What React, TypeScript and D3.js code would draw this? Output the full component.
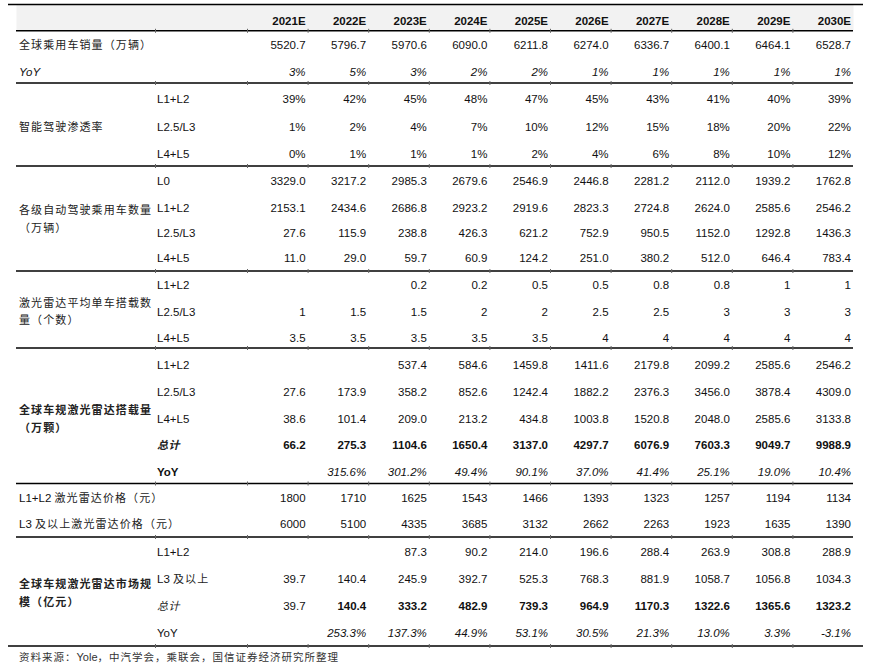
import React from 'react';
import * as d3 from 'd3';

const years = ['2021E', '2022E', '2023E', '2024E', '2025E', '2026E', '2027E', '2028E', '2029E', '2030E'];

const sales = [5520.7, 5796.7, 5970.6, 6090.0, 6211.8, 6274.0, 6336.7, 6400.1, 6464.1, 6528.7];
const salesYoY = [3, 5, 3, 2, 2, 1, 1, 1, 1, 1];

const penL12 = [39, 42, 45, 48, 47, 45, 43, 41, 40, 39];
const penL253 = [1, 2, 4, 7, 10, 12, 15, 18, 20, 22];
const penL45 = [0, 1, 1, 1, 2, 4, 6, 8, 10, 12];

const vehL0 = [3329.0, 3217.2, 2985.3, 2679.6, 2546.9, 2446.8, 2281.2, 2112.0, 1939.2, 1762.8];
const vehL12 = [2153.1, 2434.6, 2686.8, 2923.2, 2919.6, 2823.3, 2724.8, 2624.0, 2585.6, 2546.2];
const vehL253 = [27.6, 115.9, 238.8, 426.3, 621.2, 752.9, 950.5, 1152.0, 1292.8, 1436.3];
const vehL45 = [11.0, 29.0, 59.7, 60.9, 124.2, 251.0, 380.2, 512.0, 646.4, 783.4];

const perL12 = [null, null, 0.2, 0.2, 0.5, 0.5, 0.8, 0.8, 1, 1];
const perL253 = [1, 1.5, 1.5, 2, 2, 2.5, 2.5, 3, 3, 3];
const perL45 = [3.5, 3.5, 3.5, 3.5, 3.5, 4, 4, 4, 4, 4];

const volL12 = [null, null, 537.4, 584.6, 1459.8, 1411.6, 2179.8, 2099.2, 2585.6, 2546.2];
const volL253 = [27.6, 173.9, 358.2, 852.6, 1242.4, 1882.2, 2376.3, 3456.0, 3878.4, 4309.0];
const volL45 = [38.6, 101.4, 209.0, 213.2, 434.8, 1003.8, 1520.8, 2048.0, 2585.6, 3133.8];
const volTotal = [66.2, 275.3, 1104.6, 1650.4, 3137.0, 4297.7, 6076.9, 7603.3, 9049.7, 9988.9];
const volYoY = [null, 315.6, 301.2, 49.4, 90.1, 37.0, 41.4, 25.1, 19.0, 10.4];

const priceL12 = [1800, 1710, 1625, 1543, 1466, 1393, 1323, 1257, 1194, 1134];
const priceL3 = [6000, 5100, 4335, 3685, 3132, 2662, 2263, 1923, 1635, 1390];

const mktL12 = [null, null, 87.3, 90.2, 214.0, 196.6, 288.4, 263.9, 308.8, 288.9];
const mktL3 = [39.7, 140.4, 245.9, 392.7, 525.3, 768.3, 881.9, 1058.7, 1056.8, 1034.3];
const mktTotal = [39.7, 140.4, 333.2, 482.9, 739.3, 964.9, 1170.3, 1322.6, 1365.6, 1323.2];
const mktYoY = [null, 253.3, 137.3, 44.9, 53.1, 30.5, 21.3, 13.0, 3.3, -3.1];

const LAT = '"Liberation Sans", Arial, sans-serif';
const CJK = '"Noto Sans CJK SC", sans-serif';

// plain hyphen for negatives, like the source table
const f1 = (v: number) => v.toFixed(1);
const pct0 = (v: number) => v + '%';
const pct1 = (v: number) => v.toFixed(1) + '%';
const plain = (v: number) => String(v);

const App = () => {
  const width = 882;
  const height = 667;
  const x = d3.scaleBand<string>().domain(years).range([247, 853]);
  const colEdges = [155, ...years.map((y) => x(y) as number), 853];

  const cjk = (t: string, px: number, py: number, extra: any = {}) => (
    <text x={px} y={py} fontFamily={CJK} fontSize={11} letterSpacing={1.1} fill="#222" {...extra}>{t}</text>
  );
  const lat = (t: string, px: number, py: number, extra: any = {}) => (
    <text x={px} y={py} fontFamily={LAT} fontSize={11.5} fill="#111" {...extra}>{t}</text>
  );

  const valueRow = (
    key: string,
    vals: (number | null)[],
    cy: number,
    fmt: (v: number) => string,
    opts: { bold?: boolean | ((i: number) => boolean); italic?: boolean } = {}
  ) => (
    <g key={key}>
      {vals.map((v, i) =>
        v === null ? null : (
          <text
            key={i}
            x={(x(years[i]) as number) + x.bandwidth() - 2}
            y={cy + 4}
            textAnchor="end"
            fontFamily={LAT}
            fontSize={11.5}
            fill="#111"
            fontWeight={(typeof opts.bold === 'function' ? opts.bold(i) : opts.bold) ? 'bold' : 'normal'}
            fontStyle={opts.italic ? 'italic' : 'normal'}
          >
            {fmt(v)}
          </text>
        )
      )}
    </g>
  );

  const sub = (t: string, cy: number, extra: any = {}) => lat(t, 157, cy + 4, extra);

  const lines = [
    { y: 4.5, x1: 8, x2: 863 },
    { y: 30.8, x1: 16, x2: 853 },
    { y: 83, x1: 16, x2: 853 },
    { y: 166, x1: 16, x2: 853 },
    { y: 271, x1: 16, x2: 853 },
    { y: 348, x1: 16, x2: 853 },
    { y: 483.5, x1: 16, x2: 853 },
    { y: 537, x1: 16, x2: 853 },
    { y: 646, x1: 8, x2: 863 },
  ];

  return (
    <svg width={width} height={height} style={{ position: 'absolute', left: 0, top: 0, background: '#fff' }}>
      <rect x={16.5} y={5} width={837} height={25.5} fill="#f2f2f2" />
      {years.map((y) => (
        <text key={y} x={(x(y) as number) + x.bandwidth() - 2} y={25} textAnchor="end"
          fontFamily={LAT} fontSize={11.5} fontWeight="bold" fill="#111">{y}</text>
      ))}

      {/* sales */}
      {cjk('全球乘用车销量（万辆）', 19, 49)}
      {valueRow('sales', sales, 45, f1)}
      {lat('YoY', 19, 76, { fontStyle: 'italic' })}
      {valueRow('salesYoY', salesYoY, 72, pct0, { italic: true })}

      {/* penetration */}
      {cjk('智能驾驶渗透率', 19, 131)}
      {sub('L1+L2', 99)}
      {sub('L2.5/L3', 127)}
      {sub('L4+L5', 154)}
      {valueRow('p1', penL12, 99, pct0)}
      {valueRow('p2', penL253, 127, pct0)}
      {valueRow('p3', penL45, 154, pct0)}

      {/* vehicles */}
      {cjk('各级自动驾驶乘用车数量', 19, 214)}
      {cjk('（万辆）', 19, 232)}
      {sub('L0', 181)}
      {sub('L1+L2', 208)}
      {sub('L2.5/L3', 233)}
      {sub('L4+L5', 258)}
      {valueRow('v0', vehL0, 181, f1)}
      {valueRow('v1', vehL12, 208, f1)}
      {valueRow('v2', vehL253, 233, f1)}
      {valueRow('v3', vehL45, 258, f1)}

      {/* lidar per car */}
      {cjk('激光雷达平均单车搭载数', 19, 307)}
      {cjk('量（个数）', 19, 324)}
      {sub('L1+L2', 285)}
      {sub('L2.5/L3', 312)}
      {sub('L4+L5', 338)}
      {valueRow('c1', perL12, 285, plain)}
      {valueRow('c2', perL253, 312, plain)}
      {valueRow('c3', perL45, 338, plain)}

      {/* lidar volume */}
      {cjk('全球车规激光雷达搭载量', 19, 414, { fontWeight: 'bold' })}
      {cjk('（万颗）', 19, 432, { fontWeight: 'bold' })}
      {sub('L1+L2', 365)}
      {sub('L2.5/L3', 392)}
      {sub('L4+L5', 419)}
      {cjk('总计', 157, 449, { fontWeight: 'bold', fontStyle: 'italic', letterSpacing: 0.5 })}
      {sub('YoY', 472, { fontWeight: 'bold' })}
      {valueRow('o1', volL12, 365, f1)}
      {valueRow('o2', volL253, 392, f1)}
      {valueRow('o3', volL45, 419, f1)}
      {valueRow('o4', volTotal, 445, f1, { bold: true })}
      {valueRow('o5', volYoY, 472, pct1, { italic: true })}

      {/* prices */}
      <text x={19} y={502} fontSize={11.5} fill="#111">
        <tspan fontFamily={LAT}>L1+L2 </tspan>
        <tspan fontFamily={CJK} fontSize={11} letterSpacing={1.1} fill="#222">激光雷达价格（元）</tspan>
      </text>
      <text x={19} y={528} fontSize={11.5} fill="#111">
        <tspan fontFamily={LAT}>L3 </tspan>
        <tspan fontFamily={CJK} fontSize={11} letterSpacing={1.1} fill="#222">及以上激光雷达价格（元）</tspan>
      </text>
      {valueRow('r1', priceL12, 498, plain)}
      {valueRow('r2', priceL3, 524, plain)}

      {/* market */}
      {cjk('全球车规激光雷达市场规', 19, 588, { fontWeight: 'bold' })}
      {cjk('模（亿元）', 19, 606, { fontWeight: 'bold' })}
      {sub('L1+L2', 552)}
      <text x={157} y={583} fontSize={11.5} fill="#111">
        <tspan fontFamily={LAT}>L3 </tspan>
        <tspan fontFamily={CJK} fontSize={11} letterSpacing={1.1} fill="#222">及以上</tspan>
      </text>
      {cjk('总计', 157, 610, { fontStyle: 'italic', letterSpacing: 0.5 })}
      {sub('YoY', 633)}
      {valueRow('m1', mktL12, 552, f1)}
      {valueRow('m2', mktL3, 579, f1)}
      {valueRow('m3', mktTotal, 606, f1, { bold: (i: number) => i > 0 })}
      {valueRow('m4', mktYoY, 633, pct1, { italic: true })}

      {/* rules */}
      {lines.map((l, i) => (
        <line key={i} x1={l.x1} x2={l.x2} y1={l.y} y2={l.y} stroke="#000" strokeWidth={1.4} />
      ))}
      {lines.slice(1).map((l, i) => (
        <g key={'t' + i}>
          {colEdges.slice(0, -1).map((cx, j) => (
            <line key={j} x1={cx + 0.5} x2={cx + 0.5} y1={l.y - 2} y2={l.y + 2} stroke="#666" strokeWidth={1} />
          ))}
        </g>
      ))}

      <text x={19} y={661} fontSize={10.5} fill="#333">
        <tspan fontFamily={CJK} letterSpacing={1}>资料来源：</tspan>
        <tspan fontFamily={LAT} fontSize={11}>Yole</tspan>
        <tspan fontFamily={CJK} letterSpacing={1}>，中汽学会，乘联会，国信证券经济研究所整理</tspan>
      </text>
    </svg>
  );
};

export default App;
